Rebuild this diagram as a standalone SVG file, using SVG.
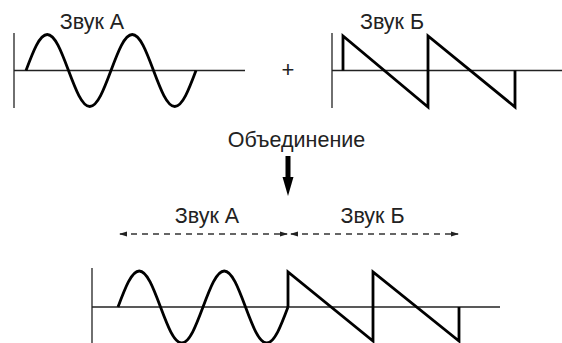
<svg xmlns="http://www.w3.org/2000/svg" width="562" height="343" viewBox="0 0 562 343">
<style>
.axis{stroke:#222;stroke-width:1.3;fill:none}
.wave{stroke:#000;stroke-width:2.8;fill:none;stroke-linejoin:miter}
.lbl{font-family:"Liberation Sans",Arial,sans-serif;font-size:21.5px;fill:#222;text-anchor:middle}
.dash{stroke:#333;stroke-width:1.4;stroke-dasharray:6 5;fill:none}
</style>
<defs>
<marker id="ah" markerWidth="8" markerHeight="6" refX="7" refY="3" orient="auto-start-reverse" markerUnits="userSpaceOnUse">
<path d="M0,0.5 L8,3 L0,5.5 Z" fill="#222"/>
</marker>
<path id="sine" d="M26,70.5 C33.1,51.6 39.53,34.5 47.25,34.5 C54.97,34.5 61.4,51.6 68.5,70.5 C75.6,89.4 82.03,106.5 89.75,106.5 C97.47,106.5 103.9,89.4 111,70.5 C118.1,51.6 124.53,34.5 132.25,34.5 C139.97,34.5 146.4,51.6 153.5,70.5 C160.6,89.4 167.03,106.5 174.75,106.5 C182.47,106.5 188.9,89.4 196,70.5"/>
</defs>
<g id="soundA">
<line class="axis" x1="14" y1="33" x2="14" y2="108"/>
<line class="axis" x1="14" y1="70.5" x2="245" y2="70.5"/>
<use href="#sine" class="wave"/>
<text class="lbl" x="92" y="29">Звук А</text>
</g>
<g id="plus">
<text class="lbl" x="288" y="77" style="font-size:22px">+</text>
</g>
<g id="soundB">
<line class="axis" x1="332" y1="33" x2="332" y2="108"/>
<line class="axis" x1="332" y1="70.5" x2="562" y2="70.5"/>
<path class="wave" d="M343,70.5 V36 L428,107 V36 L515,107 V70.5"/>
<text class="lbl" x="392" y="29">Звук Б</text>
</g>
<g id="merge">
<text class="lbl" x="296.5" y="147">Объединение</text>
<rect x="285.5" y="156" width="5" height="24" fill="#000"/>
<polygon points="282.5,177 293.5,177 288,196" fill="#000"/>
</g>
<g id="connectors">
<line class="dash" x1="120" y1="234" x2="287" y2="234" marker-start="url(#ah)" marker-end="url(#ah)"/>
<line class="dash" x1="291" y1="234" x2="458" y2="234" marker-start="url(#ah)" marker-end="url(#ah)"/>
</g>
<g id="labelsLower">
<text class="lbl" x="207" y="223">Звук А</text>
<text class="lbl" x="372.5" y="223">Звук Б</text>
</g>
<g id="combined">
<line class="axis" x1="92" y1="268" x2="92" y2="343"/>
<line class="axis" x1="92" y1="307" x2="500" y2="307"/>
<use href="#sine" class="wave" transform="translate(92,236.5)"/>
<path class="wave" d="M288,307 V272 L373,341 V272 L459,341 V307"/>
</g>
</svg>
